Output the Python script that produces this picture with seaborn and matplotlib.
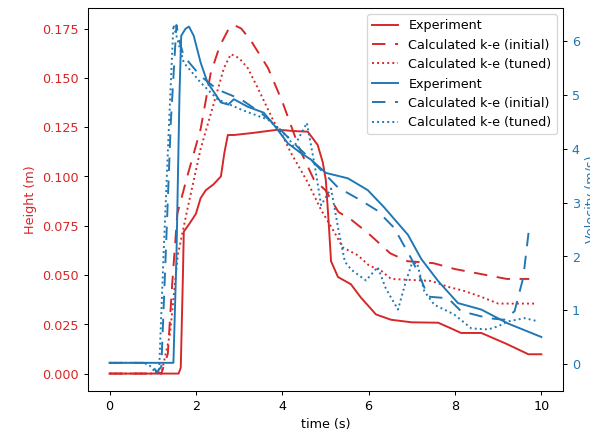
import numpy as np
import pandas as pd
import seaborn as sns
import matplotlib.pyplot as plt

# Height data (m)
t_h_exp = [0, 1.6, 1.65, 1.7, 1.72, 1.85, 2.0, 2.11, 2.23, 2.41, 2.58, 2.66, 2.74, 2.88, 3.3, 3.9,
           4.27, 4.59, 4.82, 4.94, 5.01, 5.08, 5.13, 5.29, 5.59, 5.82, 6.17, 6.52, 7.0, 7.61, 7.9,
           8.14, 8.61, 9.2, 9.7, 10]
h_exp = [0, 0.0, 0.003, 0.05, 0.072, 0.076, 0.081, 0.089, 0.093, 0.096, 0.1, 0.112, 0.121, 0.121,
         0.122, 0.1237, 0.123, 0.1227, 0.116, 0.107, 0.098, 0.075, 0.057, 0.049, 0.0453, 0.0386,
         0.030, 0.0273, 0.026, 0.0258, 0.023, 0.0206, 0.0206, 0.015, 0.0098, 0.0098]

t_h_init = [0, 1.0, 1.1, 1.2, 1.35, 1.45, 1.57, 1.8, 2.11, 2.34, 2.55, 2.74, 2.88, 3.05, 3.27, 3.67,
            4.0, 4.4, 4.73, 5.0, 5.3, 5.6, 6.0, 6.5, 6.9, 7.5, 8.0, 8.6, 9.2, 9.72]
h_init = [0, 0, 0.001, 0.0, 0.01, 0.045, 0.081, 0.1, 0.124, 0.152, 0.166, 0.174, 0.1768, 0.175,
          0.169, 0.155, 0.138, 0.114, 0.0985, 0.093, 0.082, 0.078, 0.071, 0.061, 0.057, 0.056,
          0.053, 0.0505, 0.048, 0.048]

t_h_tuned = [0, 1.0, 1.1, 1.2, 1.4, 1.58, 1.8, 2.11, 2.41, 2.65, 2.81, 3.0, 3.2, 3.43, 3.8, 4.0,
             4.2, 4.59, 4.9, 5.2, 5.4, 5.75, 6.0, 6.3, 6.52, 7.45, 7.84, 8.2, 8.6, 9.0, 9.9]
h_tuned = [0, 0, 0.001, 0.0, 0.02, 0.06, 0.083, 0.114, 0.1366, 0.155, 0.162, 0.16, 0.155, 0.145,
           0.128, 0.121, 0.112, 0.097, 0.083, 0.072, 0.064, 0.06, 0.055, 0.052, 0.048, 0.047,
           0.044, 0.042, 0.039, 0.0355, 0.0355]

# Velocity data (m/s)
t_v_exp = [0, 1.48, 1.55, 1.62, 1.66, 1.76, 1.84, 1.95, 2.11, 2.27, 2.58, 2.75, 2.88, 3.2, 3.57,
           3.8, 4.13, 4.43, 4.66, 5.01, 5.52, 5.98, 6.36, 6.91, 7.22, 7.61, 8.07, 8.61, 9.23, 10]
v_exp = [0.02, 0.02, 2.0, 5.0, 6.1, 6.23, 6.27, 6.1, 5.6, 5.23, 4.86, 4.82, 4.92, 4.78, 4.67,
         4.45, 4.1, 3.92, 3.8, 3.55, 3.45, 3.23, 2.91, 2.4, 1.95, 1.54, 1.13, 1.01, 0.75, 0.5]

t_v_init = [0, 0.8, 1.0, 1.1, 1.2, 1.3, 1.42, 1.55, 1.62, 1.72, 2.11, 2.5, 3.04, 3.5, 3.9, 4.27,
            4.6, 4.9, 5.29, 5.82, 6.2, 6.59, 6.98, 7.15, 7.38, 7.84, 8.14, 8.77, 9.14, 9.38, 9.58,
            9.72]
v_init = [0.02, 0.02, -0.05, -0.15, -0.05, 2.0, 4.5, 6.3, 6.0, 5.72, 5.35, 5.1, 4.92, 4.67, 4.4,
          4.1, 3.85, 3.6, 3.28, 3.04, 2.85, 2.53, 1.97, 1.69, 1.25, 1.22, 0.98, 0.85, 0.82, 0.98,
          1.6, 2.55]

t_v_tuned = [0, 0.7, 0.9, 1.0, 1.1, 1.15, 1.25, 1.38, 1.48, 1.55, 1.72, 2.11, 2.5, 3.04, 3.67,
             4.13, 4.27, 4.45, 4.57, 4.75, 4.9, 5.13, 5.3, 5.45, 5.6, 5.94, 6.21, 6.4, 6.68, 6.85,
             7.0, 7.12, 7.29, 7.52, 7.98, 8.38, 8.77, 9.0, 9.23, 9.61, 9.93]
v_tuned = [0.02, 0.02, 0.0, -0.1, -0.18, -0.1, 2.0, 4.5, 6.3, 6.1, 5.6, 5.23, 4.92, 4.73, 4.54,
           4.22, 4.03, 4.3, 4.48, 3.7, 2.95, 3.26, 2.5, 1.9, 1.75, 1.55, 1.8, 1.4, 1.01, 1.5,
           1.86, 1.88, 1.35, 1.1, 0.92, 0.66, 0.64, 0.7, 0.79, 0.85, 0.79]

red = 'tab:red'
blue = 'tab:blue'
dash = (0, (7, 5))

fig, ax = plt.subplots(figsize=(6.4, 4.71), dpi=92.2)
fig.subplots_adjust(left=0.149, right=0.954, bottom=0.099, top=0.982)

sns.lineplot(x=t_h_exp, y=h_exp, ax=ax, color=red, linestyle='-', label='Experiment')
sns.lineplot(x=t_h_init, y=h_init, ax=ax, color=red, linestyle=dash, label='Calculated k-e (initial)')
sns.lineplot(x=t_h_tuned, y=h_tuned, ax=ax, color=red, linestyle=':', label='Calculated k-e (tuned)')
ax.set_xlabel('time (s)')
ax.set_ylabel('Height (m)', color=red)
ax.tick_params(axis='y', labelcolor=red)

ax2 = ax.twinx()
sns.lineplot(x=t_v_exp, y=v_exp, ax=ax2, color=blue, linestyle='-', label='Experiment')
sns.lineplot(x=t_v_init, y=v_init, ax=ax2, color=blue, linestyle=dash, label='Calculated k-e (initial)')
sns.lineplot(x=t_v_tuned, y=v_tuned, ax=ax2, color=blue, linestyle=':', label='Calculated k-e (tuned)')
ax2.set_ylabel('Velocity (m/s)', color=blue)
ax2.tick_params(axis='y', labelcolor=blue)

h1, l1 = ax.get_legend_handles_labels()
h2, l2 = ax2.get_legend_handles_labels()
ax.get_legend().remove()
ax2.legend(h1 + h2, l1 + l2, loc='upper right')

plt.savefig('out.png')
